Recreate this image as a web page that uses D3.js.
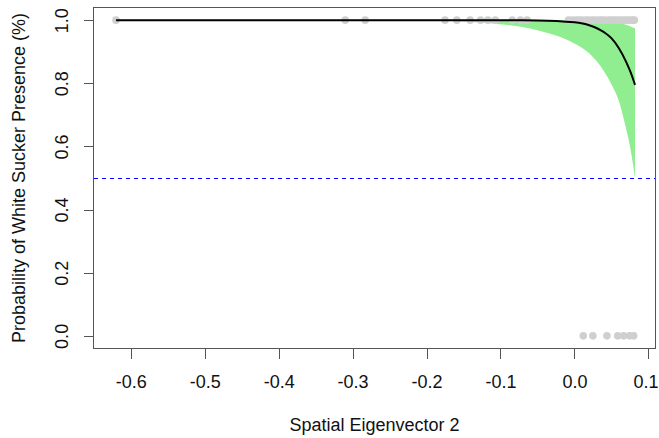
<!DOCTYPE html>
<html>
<meta charset="utf-8">
<head>
<title>White Sucker presence</title>
<script src="https://d3js.org/d3.v7.min.js"></script>
<style>
body { margin: 0; background: #fff; }
text { font-family: "Liberation Sans", Arial, sans-serif; fill: #111; }
.axis path { display: none; }
.axis line { stroke: #555; shape-rendering: crispEdges; }
</style>
</head>
<body>
<div id="grafico"></div>
<script>
// observed sites: presence (1) / absence (0) against eigenvector 2
var presentX = [-0.62, -0.31, -0.283, -0.175, -0.159, -0.141, -0.127, -0.117, -0.107,
	-0.084, -0.073, -0.064, -0.008, -0.003, 0.002, 0.006, 0.010, 0.015, 0.019, 0.024,
	0.028, 0.033, 0.037, 0.041, 0.046, 0.050, 0.054, 0.058, 0.062, 0.066, 0.070,
	0.074, 0.078, 0.081];
var absentX = [0.012, 0.025, 0.044, 0.0586, 0.0667, 0.0748, 0.0802];

// fitted probability and confidence band
var fitX =  [-0.62, -0.4, -0.2, -0.1, -0.05, 0, 0.02, 0.04, 0.05, 0.06, 0.07, 0.076, 0.082];
var fitP =  [1, 1, 1, 0.9997, 0.9992, 0.993, 0.984, 0.962, 0.943, 0.912, 0.868, 0.835, 0.795];
var lowP =  [1, 0.9999, 0.9985, 0.987, 0.968, 0.926, 0.895, 0.838, 0.797, 0.745, 0.655, 0.59, 0.50];
var highP = [1, 1, 1, 1, 1, 0.9995, 0.999, 0.997, 0.995, 0.992, 0.985, 0.98, 0.974];

var xTicks = [-0.6, -0.5, -0.4, -0.3, -0.2, -0.1, 0.0, 0.1];
var yTicks = [0, 0.2, 0.4, 0.6, 0.8, 1.0];
var cutoff = 0.5;

var W = 659, H = 438;
var box = {left: 93.5, right: 655.5, top: 7.5, bottom: 348.5};

var x = d3.scaleLinear().domain([-0.6505, 0.1097]).range([box.left, box.right]);
var y = d3.scaleLinear().domain([-0.04, 1.04]).range([box.bottom, box.top]);

var svg = d3.select("#grafico").append("svg")
	.attr("width", W)
	.attr("height", H);

var fit = fitX.map(function(v, i) { return {x: v, p: fitP[i], lo: lowP[i], hi: highP[i]}; });

// confidence band
svg.append("path")
	.datum(fit)
	.attr("fill", "#90ee90")
	.attr("d", d3.area()
		.curve(d3.curveMonotoneX)
		.x(function(d) { return x(d.x); })
		.y0(function(d) { return y(d.lo); })
		.y1(function(d) { return y(d.hi); }));

// 0.5 line
svg.append("line")
	.attr("x1", box.left).attr("x2", box.right)
	.attr("y1", y(cutoff)).attr("y2", y(cutoff))
	.attr("stroke", "#0000ff")
	.attr("stroke-width", 1)
	.attr("shape-rendering", "crispEdges")
	.attr("stroke-dasharray", "4,4");

// points
var pts = presentX.map(function(v) { return [v, 1]; })
	.concat(absentX.map(function(v) { return [v, 0]; }));
svg.selectAll(".pt")
	.data(pts)
  .enter().append("circle")
	.attr("class", "pt")
	.attr("cx", function(d) { return x(d[0]); })
	.attr("cy", function(d) { return y(d[1]); })
	.attr("r", 3.8)
	.attr("fill", "#cfcfcf");

// fitted curve
svg.append("path")
	.datum(fit)
	.attr("fill", "none")
	.attr("stroke", "#000")
	.attr("stroke-width", 2)
	.attr("d", d3.line()
		.curve(d3.curveMonotoneX)
		.x(function(d) { return x(d.x); })
		.y(function(d) { return y(d.p); }));

// box
svg.append("rect")
	.attr("x", box.left).attr("y", box.top)
	.attr("width", box.right - box.left)
	.attr("height", box.bottom - box.top)
	.attr("fill", "none")
	.attr("stroke", "#555")
	.attr("stroke-width", 1);

// axes
var gx = svg.append("g")
	.attr("class", "axis")
	.attr("transform", "translate(0," + box.bottom + ")")
	.call(d3.axisBottom(x).tickValues(xTicks).tickSize(10).tickFormat(d3.format(".1f")));
gx.selectAll("text")
	.attr("y", 39.5).attr("dy", 0)
	.style("font-size", "18px")
	.text(function(d) { return d3.format(".1f")(d).replace("−", "-"); });
// last label sits against the right edge, keep it inside the page
gx.selectAll("text").filter(function(d) { return d === xTicks[xTicks.length - 1]; })
	.attr("text-anchor", "end")
	.attr("x", W - 1 - x(xTicks[xTicks.length - 1]));

var gy = svg.append("g")
	.attr("class", "axis")
	.attr("transform", "translate(" + box.left + ",0)")
	.call(d3.axisLeft(y).tickValues(yTicks).tickSize(10).tickFormat(d3.format(".1f")));
gy.selectAll("text")
	.attr("x", 0).attr("dy", 0)
	.attr("text-anchor", "middle")
	.attr("transform", "translate(-25.5,0) rotate(-90)")
	.style("font-size", "18px");

// titles
svg.append("text")
	.attr("x", (box.left + box.right) / 2)
	.attr("y", 431)
	.attr("text-anchor", "middle")
	.style("font-size", "18px")
	.text("Spatial Eigenvector 2");

svg.append("text")
	.attr("transform", "translate(25," + (box.top + box.bottom) / 2 + ") rotate(-90)")
	.attr("text-anchor", "middle")
	.style("font-size", "18px")
	.text("Probability of White Sucker Presence (%)");
</script>
</body>
</html>
